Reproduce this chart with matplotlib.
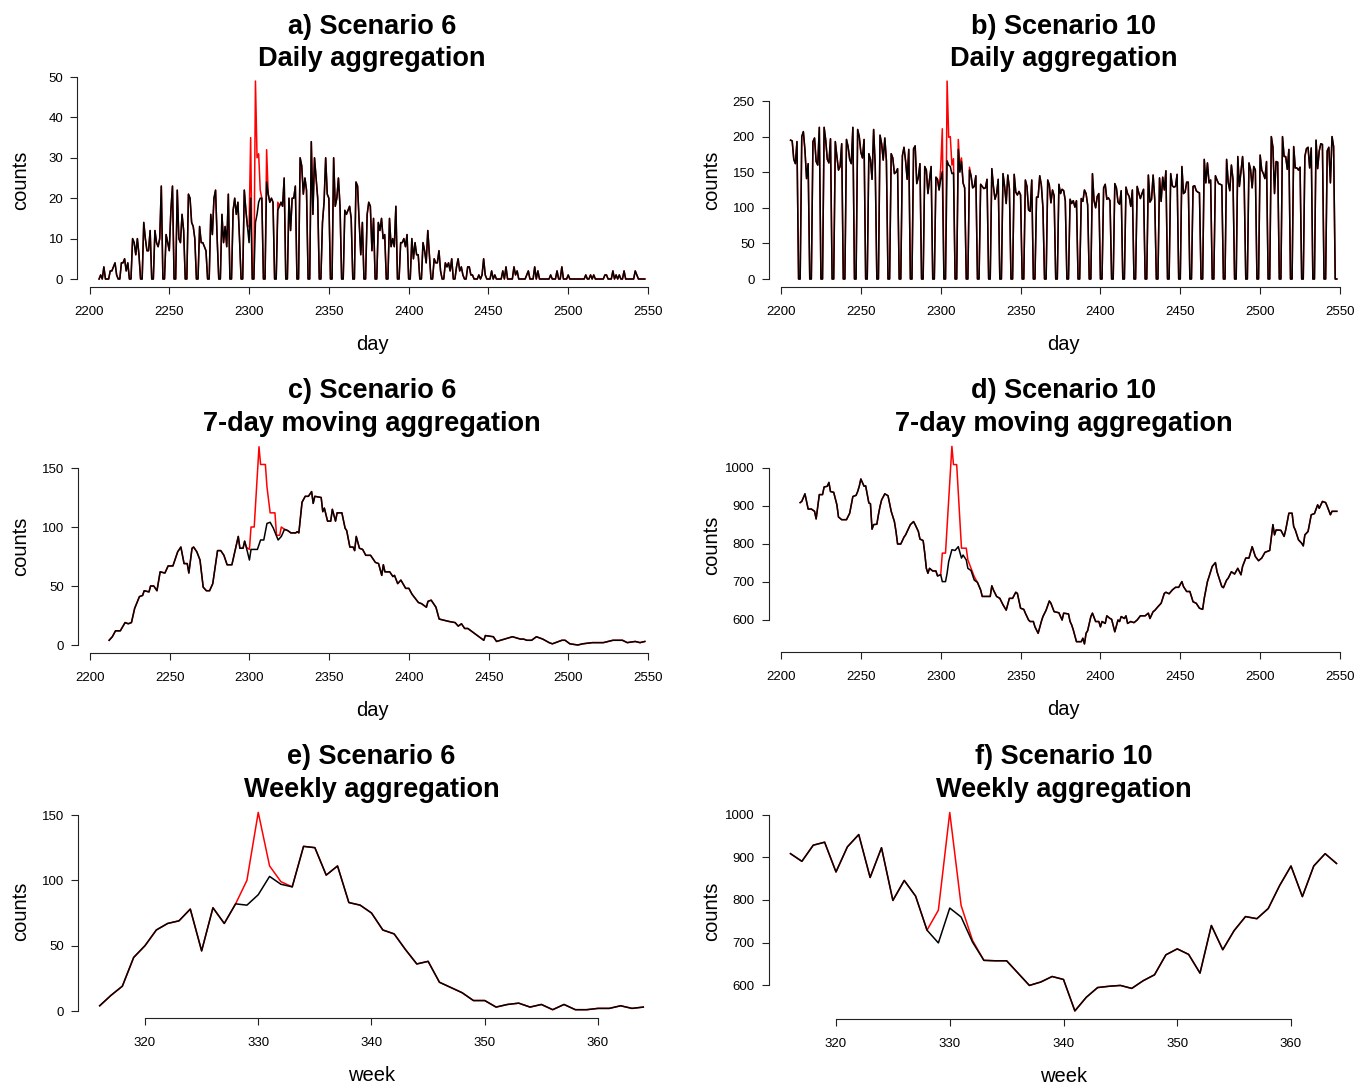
import numpy as np
import matplotlib
matplotlib.use("Agg")
import matplotlib.pyplot as plt

plt.rcParams['font.family'] = ['Liberation Sans', 'DejaVu Sans']

# ---------------- data ----------------
DAY0 = 2206  # first day (Monday)

# Scenario 6 daily counts, one row per week (Mon..Sun)
a_weeks = [
    [0, 1, 0, 3, 0, 0, 0], [2, 2, 3, 4, 1, 0, 0], [4, 4, 5, 2, 4, 0, 0], [10, 9, 6, 10, 6, 0, 0],
    [14, 10, 7, 7, 12, 0, 0], [12, 9, 8, 10, 23, 0, 0], [11, 9, 7, 17, 23, 0, 0], [22, 10, 9, 16, 12, 0, 0],
    [21, 20, 14, 13, 10, 0, 0], [13, 9, 9, 8, 7, 0, 0], [16, 11, 20, 22, 10, 0, 0], [16, 9, 13, 8, 21, 0, 0],
    [17, 20, 16, 19, 10, 0, 0], [22, 17, 13, 9, 20, 0, 0], [14, 16, 19, 20, 20, 0, 0], [24, 21, 19, 20, 19, 0, 0],
    [17, 18, 19, 18, 25, 0, 0], [20, 12, 20, 20, 23, 0, 0], [30, 28, 21, 25, 22, 0, 0], [34, 16, 30, 25, 20, 0, 0],
    [14, 19, 30, 21, 20, 0, 0], [30, 18, 20, 25, 18, 0, 0], [17, 16, 17, 18, 15, 0, 0], [24, 23, 14, 6, 14, 0, 0],
    [16, 19, 18, 7, 15, 0, 0], [14, 12, 15, 10, 11, 0, 0], [15, 8, 10, 8, 18, 0, 0], [9, 9, 10, 8, 11, 0, 0],
    [10, 5, 9, 6, 6, 0, 0], [9, 7, 4, 12, 6, 0, 0], [5, 4, 4, 7, 2, 0, 0], [4, 3, 4, 2, 5, 0, 0],
    [3, 5, 2, 3, 1, 0, 0], [3, 3, 1, 1, 0, 0, 0], [1, 0, 1, 5, 1, 0, 0], [0, 2, 0, 1, 0, 0, 0],
    [0, 2, 0, 3, 0, 0, 0], [0, 3, 1, 2, 0, 0, 0], [0, 0, 1, 2, 0, 0, 0], [3, 0, 2, 0, 0, 0, 0],
    [0, 0, 0, 1, 0, 0, 0], [2, 0, 0, 3, 0, 0, 0], [1, 0, 0, 0, 0, 0, 0], [0, 0, 0, 0, 1, 0, 0],
    [1, 0, 1, 0, 0, 0, 0], [0, 0, 1, 1, 0, 0, 0], [2, 0, 1, 0, 1, 0, 0], [2, 0, 0, 0, 0, 0, 0],
    [2, 1, 0, 0, 0, 0, 0],
]
a_out_days = [2300, 2301, 2304, 2305, 2306, 2307, 2311, 2318]
a_out_add = [4, 15, 35, 14, 12, 2, 8, 2]

# Scenario 10 daily counts, one row per week (Mon..Sun)
b_weeks = [
    [195, 194, 168, 162, 193, 0, 0], [200, 207, 181, 141, 162, 0, 0], [193, 198, 165, 160, 213, 0, 0],
    [213, 195, 168, 163, 197, 0, 0], [193, 172, 153, 158, 190, 0, 0], [196, 186, 168, 162, 213, 0, 0],
    [210, 200, 178, 170, 196, 0, 0], [176, 168, 140, 210, 159, 0, 0], [202, 190, 167, 198, 166, 0, 0],
    [176, 170, 148, 150, 155, 0, 0], [173, 185, 166, 140, 182, 0, 0], [183, 187, 134, 143, 162, 0, 0],
    [158, 153, 120, 140, 158, 0, 0], [143, 140, 125, 140, 151, 0, 0], [166, 160, 158, 148, 149, 0, 0],
    [182, 150, 165, 135, 128, 0, 0], [153, 145, 128, 130, 145, 0, 0], [133, 130, 127, 128, 140, 0, 0],
    [155, 130, 112, 120, 140, 0, 0], [148, 130, 106, 146, 127, 0, 0], [147, 122, 118, 123, 118, 0, 0],
    [139, 130, 97, 95, 139, 0, 0], [115, 115, 145, 132, 100, 0, 0], [139, 132, 107, 125, 117, 0, 0],
    [133, 120, 126, 124, 110, 0, 0], [112, 106, 110, 101, 110, 0, 0], [113, 109, 125, 120, 104, 0, 0],
    [148, 110, 100, 116, 120, 0, 0], [128, 133, 112, 114, 110, 0, 0], [134, 128, 108, 105, 124, 0, 0],
    [129, 120, 116, 102, 125, 0, 0], [130, 121, 113, 120, 126, 0, 0], [146, 108, 112, 146, 112, 0, 0],
    [142, 109, 143, 125, 152, 0, 0], [148, 131, 129, 130, 147, 0, 0], [158, 120, 122, 136, 136, 0, 0],
    [130, 131, 124, 122, 121, 0, 0], [168, 135, 163, 135, 139, 0, 0], [145, 139, 134, 133, 132, 0, 0],
    [168, 136, 124, 160, 140, 0, 0], [172, 130, 151, 172, 136, 0, 0], [163, 154, 128, 158, 153, 0, 0],
    [174, 153, 148, 141, 165, 0, 0], [200, 185, 120, 165, 164, 0, 0], [200, 172, 172, 154, 182, 0, 0],
    [186, 156, 156, 153, 157, 0, 0], [172, 183, 185, 156, 184, 0, 0], [195, 155, 180, 190, 189, 0, 0],
    [180, 185, 135, 200, 186, 0, 0],
]
b_out_days = [2300, 2301, 2304, 2305, 2306, 2307, 2308, 2311, 2312, 2313, 2318]
b_out_add = [17, 60, 112, 39, 42, 12, 20, 14, 8, 5, 4]

# Scenario 6, 7-day moving sums (baseline)
c_days = [2212, 2214, 2216, 2219, 2222, 2224, 2226, 2228, 2231, 2233, 2234, 2237, 2238, 2240, 2242, 2244,
          2247, 2249, 2252, 2255, 2257, 2259, 2261, 2262, 2264, 2265, 2267, 2269, 2271, 2273, 2275, 2277,
          2280, 2282, 2284, 2286, 2289, 2291, 2293, 2294, 2296, 2297, 2298, 2300, 2301, 2305, 2307, 2309,
          2311, 2313, 2315, 2318, 2320, 2322, 2324, 2326, 2329, 2330, 2331, 2333, 2335, 2337, 2339, 2340,
          2341, 2345, 2346, 2347, 2349, 2351, 2352, 2354, 2355, 2358, 2360, 2361, 2363, 2365, 2366, 2367,
          2369, 2371, 2373, 2376, 2379, 2381, 2383, 2384, 2385, 2388, 2390, 2391, 2393, 2395, 2398, 2400,
          2402, 2406, 2408, 2411, 2412, 2414, 2417, 2419, 2422, 2425, 2429, 2431, 2433, 2435, 2437, 2440,
          2442, 2444, 2447, 2448, 2453, 2455, 2460, 2465, 2470, 2472, 2474, 2477, 2480, 2484, 2488, 2490,
          2492, 2496, 2498, 2501, 2506, 2509, 2515, 2522, 2528, 2534, 2537, 2542, 2545, 2548]
c_vals = [4, 7, 12, 12, 19, 18, 19, 31, 41, 42, 46, 45, 50, 50, 46, 62,
          61, 67, 67, 79, 83, 69, 69, 61, 82, 83, 79, 72, 49, 46, 46, 52,
          80, 80, 76, 68, 68, 80, 92, 82, 82, 88, 83, 72, 81, 81, 89, 89,
          103, 104, 99, 89, 92, 98, 97, 95, 95, 96, 95, 121, 126, 126, 130, 120,
          126, 125, 113, 116, 105, 105, 115, 105, 112, 112, 99, 97, 83, 83, 80, 92,
          82, 81, 76, 76, 70, 69, 59, 68, 62, 62, 58, 59, 52, 55, 48, 48,
          43, 36, 35, 32, 37, 38, 32, 22, 21, 20, 19, 16, 18, 14, 14, 11,
          9, 7, 4, 8, 7, 3, 5, 7, 5, 5, 4, 4, 7, 5, 2, 1,
          2, 4, 4, 1, 0, 1, 2, 2, 4, 4, 2, 3, 2, 3]
c_out_days = [2300, 2301, 2303, 2306, 2307, 2310, 2311, 2313, 2316, 2317, 2319, 2320, 2322]
c_out_vals = [81, 100, 100, 168, 153, 153, 134, 112, 112, 93, 93, 100, 98]

# Scenario 10, 7-day moving sums (baseline)
d_days = [2212, 2213, 2215, 2217, 2219, 2221, 2222, 2224, 2226, 2227, 2229, 2230, 2231, 2233, 2235, 2236,
          2238, 2241, 2243, 2245, 2247, 2248, 2249, 2250, 2252, 2253, 2255, 2256, 2257, 2258, 2260, 2261,
          2262, 2263, 2265, 2267, 2269, 2271, 2272, 2273, 2275, 2277, 2278, 2280, 2281, 2283, 2284, 2286,
          2287, 2289, 2290, 2291, 2292, 2293, 2295, 2297, 2298, 2300, 2301, 2303, 2304, 2305, 2307, 2309,
          2311, 2313, 2314, 2316, 2317, 2319, 2321, 2323, 2325, 2326, 2331, 2332, 2333, 2335, 2337, 2339,
          2341, 2343, 2345, 2347, 2348, 2350, 2352, 2353, 2355, 2356, 2358, 2359, 2361, 2363, 2364, 2366,
          2368, 2369, 2371, 2374, 2376, 2377, 2380, 2381, 2382, 2383, 2385, 2388, 2389, 2390, 2391, 2392,
          2394, 2395, 2397, 2399, 2400, 2401, 2403, 2404, 2406, 2407, 2409, 2411, 2412, 2413, 2415, 2416,
          2417, 2419, 2421, 2423, 2425, 2428, 2430, 2431, 2433, 2434, 2436, 2438, 2440, 2441, 2443, 2445,
          2447, 2449, 2451, 2452, 2454, 2456, 2458, 2460, 2462, 2464, 2465, 2467, 2468, 2470, 2472, 2473,
          2474, 2476, 2477, 2479, 2480, 2482, 2484, 2486, 2488, 2489, 2491, 2493, 2495, 2497, 2499, 2501,
          2503, 2506, 2508, 2509, 2510, 2513, 2515, 2516, 2518, 2520, 2521, 2522, 2524, 2526, 2527, 2528,
          2530, 2532, 2534, 2536, 2537, 2539, 2541, 2542, 2544, 2545, 2548]
d_vals = [909, 912, 932, 892, 892, 886, 866, 930, 930, 950, 952, 962, 938, 936, 903, 871,
          864, 864, 881, 925, 928, 938, 952, 971, 952, 953, 908, 906, 839, 851, 852, 877,
          899, 916, 932, 927, 886, 859, 833, 800, 800, 818, 824, 842, 851, 859, 851, 833,
          813, 809, 776, 736, 723, 736, 729, 729, 716, 719, 701, 701, 723, 754, 785, 783,
          793, 763, 771, 758, 736, 730, 705, 699, 679, 662, 662, 690, 679, 662, 657, 640,
          626, 657, 657, 673, 670, 631, 628, 618, 600, 596, 596, 582, 565, 596, 609, 626,
          650, 644, 622, 619, 600, 618, 616, 596, 587, 574, 543, 543, 552, 537, 565, 572,
          609, 618, 596, 596, 582, 596, 591, 611, 604, 602, 569, 600, 596, 609, 604, 611,
          591, 596, 593, 600, 611, 611, 618, 604, 622, 625, 635, 644, 670, 673, 669, 679,
          686, 686, 701, 688, 675, 675, 648, 644, 631, 628, 657, 701, 714, 741, 751, 727,
          714, 688, 685, 705, 710, 727, 721, 736, 719, 741, 763, 763, 793, 767, 756, 763,
          778, 783, 851, 824, 837, 836, 820, 837, 881, 881, 846, 837, 811, 802, 795, 824,
          833, 877, 880, 903, 894, 912, 909, 899, 877, 886, 886]
d_out_days = [2300, 2301, 2303, 2307, 2308, 2310, 2313, 2316, 2317, 2321, 2323]
d_out_vals = [719, 776, 776, 1057, 1009, 1009, 789, 789, 758, 714, 699]

# Weekly aggregation
weeks = list(range(316, 365))
e_vals = [4, 12, 19, 41, 50, 62, 67, 69, 78, 46, 79, 67, 82, 81, 89, 103, 97, 95, 126, 125, 104, 111,
          83, 81, 75, 62, 59, 47, 36, 38, 22, 18, 14, 8, 8, 3, 5, 6, 3, 5, 1, 5, 1, 1, 2, 2, 4, 2, 3]
e_out_weeks = [329, 330, 331, 332]
e_out_add = [19, 63, 8, 2]
f_vals = [909, 891, 929, 936, 866, 925, 954, 853, 923, 799, 846, 809, 729, 699, 781, 760, 701, 658,
          657, 657, 628, 599, 607, 620, 613, 539, 571, 594, 597, 599, 592, 610, 624, 671, 685, 672,
          628, 740, 683, 728, 761, 756, 780, 834, 880, 808, 880, 909, 886]
f_out_weeks = [329, 330, 331, 332]
f_out_add = [77, 225, 27, 4]

# ---------------- build series ----------------
W, H = 1368, 1084
fig = plt.figure(figsize=(W / 100, H / 100), dpi=100)


def with_additions(x, y, add_x, add_v):
    y = np.array(y, dtype=float)
    x = list(x)
    for xx, vv in zip(add_x, add_v):
        y[x.index(xx)] += vv
    return y


def with_segment(x, y, seg_x, seg_y):
    x = np.array(x); y = np.array(y, dtype=float)
    keep_lo = x < seg_x[0]
    keep_hi = x > seg_x[-1]
    nx = np.concatenate([x[keep_lo], seg_x, x[keep_hi]])
    ny = np.concatenate([y[keep_lo], seg_y, y[keep_hi]])
    return nx, ny


a_daily = np.array(sum(a_weeks, []), dtype=float)
b_daily = np.array(sum(b_weeks, []), dtype=float)
days = np.arange(DAY0, DAY0 + len(a_daily))
a_red = with_additions(days, a_daily, a_out_days, a_out_add)
b_red = with_additions(days, b_daily, b_out_days, b_out_add)
c_rx, c_ry = with_segment(c_days, c_vals, c_out_days, c_out_vals)
d_rx, d_ry = with_segment(d_days, d_vals, d_out_days, d_out_vals)
e_red = with_additions(weeks, e_vals, e_out_weeks, e_out_add)
f_red = with_additions(weeks, f_vals, f_out_weeks, f_out_add)


def rmargin(lo, hi):
    m = 0.04 * (hi - lo)
    return lo - m, hi + m


def panel(xb, yb, xr, yr, xrange_, xv, xp, yv, yp, xticks, yticks, t1, t2, xlabel, trow):
    xlim = rmargin(*xrange_)
    allv = np.concatenate([np.asarray(yb, float), np.asarray(yr, float)])
    ylim = rmargin(allv.min(), allv.max())
    sx = (xp[1] - xp[0]) / (xv[1] - xv[0])
    left = xp[0] + (xlim[0] - xv[0]) * sx
    right = xp[0] + (xlim[1] - xv[0]) * sx
    sy = (yp[1] - yp[0]) / (yv[1] - yv[0])
    top = yp[0] + (ylim[1] - yv[0]) * sy
    bottom = yp[0] + (ylim[0] - yv[0]) * sy
    ax = fig.add_axes([left / W, 1 - bottom / H, (right - left) / W, (bottom - top) / H])
    ax.plot(xr, yr, color='#FF0000', lw=1.1, solid_joinstyle='round')
    ax.plot(xb, yb, color='black', lw=1.1, solid_joinstyle='round')
    ax.set_xlim(xlim); ax.set_ylim(ylim)
    for s in ('top', 'right'):
        ax.spines[s].set_visible(False)
    for s in ('left', 'bottom'):
        ax.spines[s].set_linewidth(0.8)
        ax.spines[s].set_color('#222222')
    ax.spines['left'].set_bounds(yticks[0], yticks[-1])
    ax.spines['bottom'].set_bounds(xticks[0], xticks[-1])
    ax.set_xticks(xticks); ax.set_yticks(yticks)
    ax.set_xticklabels([str(t) for t in xticks])
    ax.set_yticklabels([str(t) for t in yticks])
    ax.tick_params(axis='x', length=5, width=0.8, labelsize=9.5, pad=9, color='#222222')
    ax.tick_params(axis='y', length=5, width=0.8, labelsize=9.5, pad=5, color='#222222')
    cx = (left + right) / 2
    cy = (top + bottom) / 2
    fig.text(cx / W, 1 - (trow + 2.5) / H, t1, ha='center', va='center', fontsize=19.5, fontweight='bold')
    fig.text(cx / W, 1 - (trow + 35) / H, t2, ha='center', va='center', fontsize=19.5, fontweight='bold')
    fig.text(cx / W, 1 - (bottom + 58) / H, xlabel, ha='center', va='center', fontsize=14.5)
    fig.text((left - 57) / W, 1 - cy / H, 'counts', ha='center', va='center', rotation=90, fontsize=14.5)
    return ax


xt_day = [2200, 2250, 2300, 2350, 2400, 2450, 2500, 2550]
xt_week = [320, 330, 340, 350, 360]
dr = (DAY0, DAY0 + len(a_daily) - 1)
wr = (weeks[0], weeks[-1])

panel(days, a_daily, days, a_red, dr, (2200, 2550), (89.5, 648), (0, 50), (279, 77),
      xt_day, [0, 10, 20, 30, 40, 50], 'a) Scenario 6', 'Daily aggregation', 'day', 24)
panel(days, b_daily, days, b_red, dr, (2200, 2550), (781, 1340), (0, 250), (279, 101),
      xt_day, [0, 50, 100, 150, 200, 250], 'b) Scenario 10', 'Daily aggregation', 'day', 24)
panel(c_days, c_vals, c_rx, c_ry, dr, (2200, 2550), (90, 648), (0, 150), (645, 468),
      xt_day, [0, 50, 100, 150], 'c) Scenario 6', '7-day moving aggregation', 'day', 389)
panel(d_days, d_vals, d_rx, d_ry, dr, (2200, 2550), (781, 1340), (600, 1000), (620, 468),
      xt_day, [600, 700, 800, 900, 1000], 'd) Scenario 10', '7-day moving aggregation', 'day', 389)
panel(weeks, e_vals, weeks, e_red, wr, (320, 360), (145, 598), (0, 150), (1011, 815),
      xt_week, [0, 50, 100, 150], 'e) Scenario 6', 'Weekly aggregation', 'week', 755)
panel(weeks, f_vals, weeks, f_red, wr, (320, 360), (836, 1291), (600, 1000), (985, 815),
      xt_week, [600, 700, 800, 900, 1000], 'f) Scenario 10', 'Weekly aggregation', 'week', 755)

fig.savefig('out.png', dpi=100)
